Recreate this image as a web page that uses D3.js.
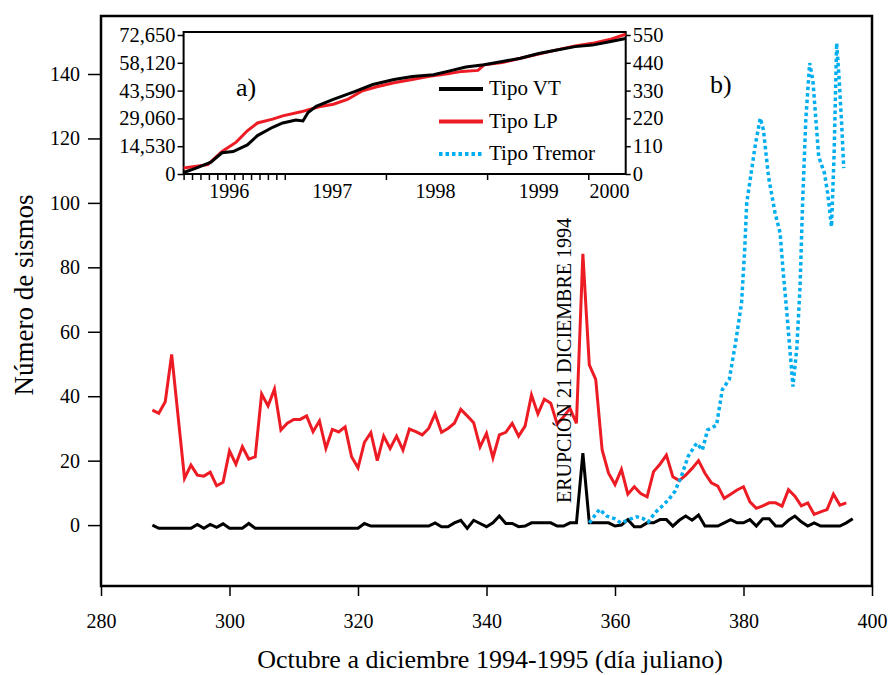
<!DOCTYPE html>
<html>
<head>
<meta charset="utf-8">
<script src="https://cdn.jsdelivr.net/npm/d3@7.9.0/dist/d3.min.js"></script>
<style>
  body { margin: 0; background: #fff; }
  svg { display: block; font-family: "Liberation Serif", "Times New Roman", serif; }
</style>
</head>
<body>
<svg id="chart" width="890" height="675"></svg>
<script>
// main panel b): daily counts, [julian day, count]
const lpDaily = [
  [288,35.7],[289,34.7],[290,38.3],[291,53],[293,14.5],[294,18.6],[295,15.5],[296,15.2],[297,16.4],
  [298,12.2],[299,13.3],[300,23],[301,18.9],[302,24.3],[303,20.5],[304,21.2],[305,40.7],[306,37],
  [307,42.2],[308,29.5],[309,31.6],[310,32.8],[311,32.8],[312,33.9],[313,29],[314,32.3],[315,23.8],
  [316,29.7],[317,28.9],[318,30.5],[319,21.2],[320,17.8],[321,25.7],[322,28.7],[323,20],[324,27.6],
  [325,23.8],[326,27.6],[327,23.3],[328,29.8],[329,29],[330,28],[331,30],[332,34.5],[333,28.8],
  [334,30],[335,31.6],[336,35.9],[337,33.9],[338,31.8],[339,24.3],[340,28.5],[341,20.9],[342,28],
  [343,28.8],[344,31.6],[345,27.6],[346,30.7],[347,40.4],[348,34.5],[349,39.1],[350,37.8],[351,31.4],
  [352,33.6],[353,36.2],[354,31.6],[355,84.2],[356,49.7],[357,45.2],[358,23.3],[359,16.1],[360,12.6],
  [361,17.3],[362,9.6],[363,11.9],[364,9.8],[365,8.8],[366,16.6],[367,18.9],[368,21.7],[369,15],
  [370,13.8],[371,15.5],[372,17.6],[373,20],[374,16.1],[375,13.1],[376,12.1],[377,8.3],[378,9.6],
  [379,10.9],[380,11.9],[381,7.2],[382,5.2],[383,6],[384,6.9],[385,6.9],[386,5.9],[387,11],[388,9],
  [389,6],[390,6.9],[391,3.3],[392,4.1],[393,4.8],[394,9.6],[395,6.2],[396,6.9]
];

const vtDaily = [
  [288,0],[289,-1],[294,-1],[295,0.2],[296,-1],[297,0.2],[298,-0.7],[299,0.4],[300,-1],[302,-1],
  [303,0.5],[304,-1],[320,-1],[321,0.5],[322,-0.3],[331,-0.3],[332,0.7],[333,-0.5],[334,-0.5],
  [335,0.7],[336,1.5],[337,-1],[338,1.5],[339,0.5],[340,-0.5],[341,0.7],[342,2.8],[343,0.5],
  [344,0.5],[345,-0.5],[346,-0.3],[347,0.7],[350,0.7],[351,-0.3],[352,-0.3],[353,0.7],[354,0.7],
  [355,22.3],[356,0.7],[359,0.7],[360,-0.3],[361,0],[362,1.7],[363,-0.5],[364,-0.5],[365,0.7],
  [366,0.7],[367,1.7],[368,1.7],[369,-0.3],[370,1.5],[371,2.8],[372,1.5],[373,3.1],[374,-0.3],
  [376,-0.3],[377,0.7],[378,1.7],[379,0.7],[380,0.7],[381,1.7],[382,-0.3],[383,2],[384,2],
  [385,-0.3],[386,-0.3],[387,1.5],[388,2.8],[389,1],[390,-0.3],[391,0.7],[392,-0.3],[395,-0.3],
  [396,0.7],[397,2]
];

const tremorDaily = [
  [356,0.7],[357.6,4.9],[358.7,2.8],[359.9,2],[360.9,0.7],[362.2,1.7],[363.4,2.6],[364.4,2],
  [365.2,1],[366.2,3.8],[367.2,5.6],[368.3,7.8],[369.3,10.4],[370.3,15],[371.4,21.4],[372.7,25.4],
  [373.6,23.3],[374.4,29.5],[375.8,31],[376.7,42],[377.8,45.3],[378.8,57],[379.7,69],[380.2,86],
  [380.5,100],[381.1,108],[381.8,117.5],[382.6,126.3],[383.1,122.7],[383.9,108],[384.9,97],
  [385.7,90.6],[386.2,78],[386.7,67],[387.2,55],[387.7,43],[388.3,55],[388.8,74],[389.2,100],
  [389.7,126],[390.3,143.4],[390.8,138],[391.7,114.4],[392.6,109.2],[393.1,103],[393.7,92.6],
  [394.1,115],[394.5,149.6],[394.9,138],[395.3,123.7],[395.6,110.8]
];

const xTicks = [280, 300, 320, 340, 360, 380, 400];
const yTicks = [0, 20, 40, 60, 80, 100, 120, 140];

// inset a): cumulative counts, [decimal year, total]
const lpCumulative = [
  [1996.0,3170],[1996.24,4890],[1996.38,11760],[1996.52,16640],[1996.63,22590],[1996.73,26680],
  [1996.88,28660],[1996.98,30380],[1997.16,32490],[1997.34,35140],[1997.48,36460],[1997.62,38970],
  [1997.76,43330],[1997.91,45570],[1998.08,47690],[1998.26,49400],[1998.43,51120],[1998.61,52440],
  [1998.75,53630],[1998.91,54160],[1998.97,57060],[1999.15,58250],[1999.33,60500],[1999.51,62740],
  [1999.69,64860],[1999.87,66970],[2000.04,68290],[2000.21,70270],[2000.37,73050]
];
const vtCumulative = [
  [1996.0,6],[1996.13,24],[1996.27,47],[1996.38,84],[1996.49,89],[1996.63,115],[1996.73,152],
  [1996.88,185],[1996.98,202],[1997.11,214],[1997.18,210],[1997.23,243],[1997.31,268],[1997.48,295],
  [1997.69,326],[1997.87,354],[1998.08,374],[1998.26,386],[1998.47,393],[1998.61,406],[1998.79,423],
  [1998.97,432],[1999.15,445],[1999.33,458],[1999.51,477],[1999.69,491],[1999.87,504],[2000.04,510],
  [2000.21,523],[2000.37,536]
];

const insetLeftTicks = [0, 14530, 29060, 43590, 58120, 72650];
const insetRightTicks = [0, 110, 220, 330, 440, 550];
const insetYearLabels = [['1996',1996.45],['1997',1997.47],['1998',1998.49],['1999',1999.51],['2000',2000.21]];
const insetMajorTicks = [1998, 1999, 2000];

const legendItems = ['Tipo VT', 'Tipo LP', 'Tipo Tremor'];

const RED = '#ed1c24';
const BLUE = '#00aeef';
const SERIF = 'Liberation Serif, Times New Roman, serif';

const svg = d3.select('#chart');

// ---- main panel
const x = d3.scaleLinear().domain([280, 400]).range([101, 872]);
const y = d3.scaleLinear().domain([-18.9, 158]).range([586, 16]);

let xAxis = svg.append('g')
  .attr('transform', 'translate(0,586)')
  .call(d3.axisBottom(x).tickValues(xTicks).tickSize(10).tickPadding(18));
let yAxis = svg.append('g')
  .attr('transform', 'translate(101,0)')
  .call(d3.axisLeft(y).tickValues(yTicks).tickSize(13).tickPadding(8));

[xAxis, yAxis].forEach((g) => {
  g.attr('font-family', SERIF);
  g.select('.domain').remove();
  g.selectAll('line').attr('stroke', '#000').attr('stroke-width', 1.5);
  g.selectAll('text').attr('font-size', 20).attr('fill', '#000');
});

svg.append('rect')
  .attr('x', 101).attr('y', 16).attr('width', 771).attr('height', 570)
  .attr('fill', 'none').attr('stroke', '#000').attr('stroke-width', 2.5);

let line = d3.line().x((d) => x(d[0])).y((d) => y(d[1]));

svg.append('path').attr('d', line(lpDaily))
  .attr('fill', 'none').attr('stroke', RED).attr('stroke-width', 3);
svg.append('path').attr('d', line(vtDaily))
  .attr('fill', 'none').attr('stroke', '#000').attr('stroke-width', 3);
svg.append('path').attr('d', line(tremorDaily))
  .attr('fill', 'none').attr('stroke', BLUE).attr('stroke-width', 3.5).attr('stroke-dasharray', '3.5 3');

svg.append('text')
  .attr('transform', 'translate(571,503) rotate(-90)')
  .attr('font-family', SERIF)
  .attr('font-size', 20)
  .text('ERUPCIÓN 21 DICIEMBRE 1994');

svg.append('text')
  .attr('transform', 'translate(33,295) rotate(-90)')
  .attr('text-anchor', 'middle')
  .attr('font-family', SERIF)
  .attr('font-size', 27)
  .text('Número de sismos');

svg.append('text')
  .attr('x', 490).attr('y', 668)
  .attr('text-anchor', 'middle')
  .attr('font-family', SERIF)
  .attr('font-size', 26)
  .text('Octubre a diciembre 1994-1995 (día juliano)');

svg.append('text').attr('x', 710).attr('y', 93)
  .attr('font-family', SERIF).attr('font-size', 26).text('b)');

// ---- inset panel
const ix = d3.scaleLinear().domain([1996, 2000.37]).range([183.6, 625.7]);
const iyR = d3.scaleLinear().domain([0, 550]).range([174, 35]);
const iyL = d3.scaleLinear().domain([0, 72650]).range([174, 35]);

svg.append('rect')
  .attr('x', 183.6).attr('y', 32).attr('width', 442.1).attr('height', 142)
  .attr('fill', '#fff').attr('stroke', '#000').attr('stroke-width', 2);

let leftAxis = svg.append('g')
  .attr('transform', 'translate(183.6,0)')
  .call(d3.axisLeft(iyL).tickValues(insetLeftTicks).tickFormat(d3.format(',')).tickSize(6).tickPadding(2));
let rightAxis = svg.append('g')
  .attr('transform', 'translate(625.7,0)')
  .call(d3.axisRight(iyR).tickValues(insetRightTicks).tickSize(5).tickPadding(2));
let monthTicks = d3.range(0, 13).map((m) => 1996 + m / 12);
let bottomAxis = svg.append('g')
  .attr('transform', 'translate(0,174)')
  .call(d3.axisBottom(ix).tickValues(monthTicks.concat(insetMajorTicks)).tickFormat('').tickSize(6));

[leftAxis, rightAxis, bottomAxis].forEach((g) => {
  g.attr('font-family', SERIF);
  g.select('.domain').remove();
  g.selectAll('line').attr('stroke', '#000').attr('stroke-width', 1.5);
  g.selectAll('text').attr('font-size', 20.5).attr('fill', '#000');
});

svg.append('g').selectAll('text')
  .data(insetYearLabels)
  .join('text')
  .attr('x', (d) => ix(d[1]))
  .attr('y', 198)
  .attr('text-anchor', 'middle')
  .attr('font-family', SERIF)
  .attr('font-size', 20)
  .text((d) => d[0]);

svg.append('path').attr('d', d3.line().x((d) => ix(d[0])).y((d) => iyL(d[1]))(lpCumulative))
  .attr('fill', 'none').attr('stroke', RED).attr('stroke-width', 3);
svg.append('path').attr('d', d3.line().x((d) => ix(d[0])).y((d) => iyR(d[1]))(vtCumulative))
  .attr('fill', 'none').attr('stroke', '#000').attr('stroke-width', 3);

svg.append('text').attr('x', 236).attr('y', 96)
  .attr('font-family', SERIF).attr('font-size', 26).text('a)');

let legendStyles = [
  { stroke: '#000', dash: null },
  { stroke: RED, dash: null },
  { stroke: BLUE, dash: '3.5 3' }
];
let legendY = d3.scalePoint().domain(legendItems).range([89, 154]);
let legend = svg.append('g');
legendItems.forEach((name, i) => {
  legend.append('line')
    .attr('x1', 439).attr('x2', 483)
    .attr('y1', legendY(name)).attr('y2', legendY(name))
    .attr('stroke', legendStyles[i].stroke).attr('stroke-width', 4)
    .attr('stroke-dasharray', legendStyles[i].dash);
  legend.append('text')
    .attr('x', 489).attr('y', legendY(name) + 6)
    .attr('font-family', SERIF)
    .attr('font-size', 21)
    .text(name);
});
</script>
</body>
</html>
